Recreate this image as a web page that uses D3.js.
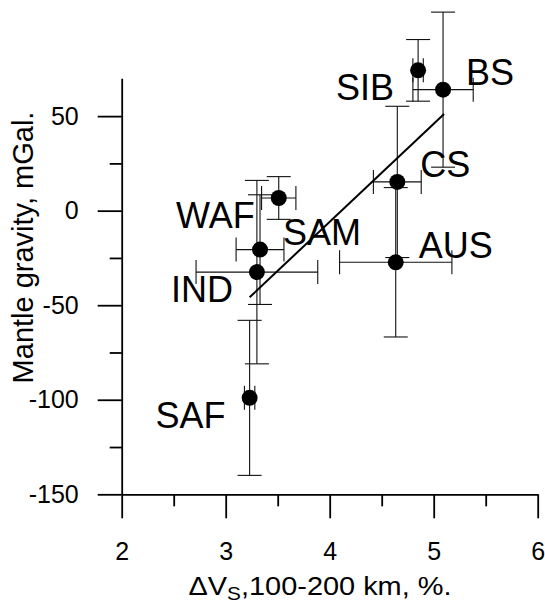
<!DOCTYPE html>
<html>
<head>
<meta charset="utf-8">
<script src="https://cdn.jsdelivr.net/npm/d3@7"></script>
<style>
  body { margin: 0; background: #fff; }
  text { font-family: "Liberation Sans", Arial, Helvetica, sans-serif; fill: #000; }
</style>
</head>
<body>
<div class="chart"></div>
<script>
// ========================= DATA =========================
const regions = ["SIB", "BS", "CS", "AUS", "WAF", "SAM", "IND", "SAF"]
const dVs = [4.85, 5.09, 4.65, 4.635, 3.51, 3.33, 3.30, 3.23]
const dVsErr = [0.05, 0.29, 0.23, 0.54, 0.165, 0.23, 0.585, 0.05]
const gravity = [74.2, 64, 15.2, -27.3, 6.7, -20.6, -32.5, -99]
const gravityErr = [16.3, 41, 40, 39.5, 11.3, 29, 48.5, 41]

// fitted line end points
const fitX = [3.23, 5.10]
const fitY = [-45.8, 51.1]

const xTicks = [2, 3, 4, 5, 6]
const xMinorTicks = [2.5, 3.5, 4.5, 5.5]
const yTicks = [-150, -100, -50, 0, 50]
const yMinorTicks = [-125, -75, -25, 25]

// which side of the dot each name sits on
const labelSide = { SIB: "left", BS: "right", CS: "right", AUS: "right", WAF: "left", SAM: "right", IND: "left", SAF: "left" }

// ========================= SETUP =========================
const svgWidth = 545
const svgHeight = 603

let svg = d3.select(".chart")
  .append("svg")
  .attr("width", svgWidth)
  .attr("height", svgHeight)

let xScale = d3.scaleLinear().domain([2, 6]).range([121.7, 537.7])
let yScale = d3.scaleLinear().domain([-150, 70]).range([494.3, 78.3])

let points = regions.map((name, i) => ({
  name: name,
  x: dVs[i],
  y: gravity[i],
  xe: dVsErr[i],
  ye: gravityErr[i]
}))

// ========================= AXES =========================
// plain hyphen for negatives, like the original
let plain = d => String(d)

let leftAxis = d3.axisLeft(yScale)
  .tickValues(yTicks)
  .tickSize(24)
  .tickSizeOuter(0)
  .tickPadding(19)
  .tickFormat(plain)

let leftMinor = d3.axisLeft(yScale)
  .tickValues(yMinorTicks)
  .tickSize(12)
  .tickFormat("")

let bottomAxis = d3.axisBottom(xScale)
  .tickValues(xTicks)
  .tickSize(24)
  .tickSizeOuter(0)
  .tickPadding(24)
  .tickFormat(plain)

let bottomMinor = d3.axisBottom(xScale)
  .tickValues(xMinorTicks)
  .tickSize(12)
  .tickFormat("")

svg.append("g")
  .attr("transform", `translate(${xScale(2)}, 0)`)
  .call(leftAxis)
svg.append("g")
  .attr("transform", `translate(${xScale(2)}, 0)`)
  .call(leftMinor)
  .select(".domain").remove()

svg.append("g")
  .attr("transform", `translate(0, ${yScale(-150)})`)
  .call(bottomAxis)
svg.append("g")
  .attr("transform", `translate(0, ${yScale(-150)})`)
  .call(bottomMinor)
  .select(".domain").remove()

svg.selectAll(".domain, .tick line")
  .attr("stroke", "#000")
  .attr("stroke-width", 1.8)

svg.selectAll(".tick text")
  .attr("font-size", 25)
  .attr("font-family", "Liberation Sans, Arial, sans-serif")
  .attr("fill", "#000")

// ========================= AXIS TITLES =========================
let xTitle = svg.append("text")
  .attr("x", 320)
  .attr("y", 595)
  .attr("text-anchor", "middle")
  .attr("font-size", 25)
  .attr("textLength", 263)
  .attr("lengthAdjust", "spacingAndGlyphs")
xTitle.append("tspan").text("\u0394V")
xTitle.append("tspan")
  .attr("font-size", 18)
  .attr("dy", 5)
  .text("S")
xTitle.append("tspan")
  .attr("dy", -5)
  .text(",100-200 km, %.")

svg.append("text")
  .attr("transform", "translate(33, 247.5) rotate(-90)")
  .attr("text-anchor", "middle")
  .attr("font-size", 29)
  .text("Mantle gravity, mGal.")

// ========================= ERROR BARS =========================
const cap = 12
let bars = svg.append("g")
  .attr("stroke", "#111")
  .attr("stroke-width", 1.1)
  .attr("fill", "none")

points.forEach(d => {
  let cx = xScale(d.x)
  let cy = yScale(d.y)
  let top = yScale(d.y + d.ye)
  let bot = yScale(d.y - d.ye)
  let lft = xScale(d.x - d.xe)
  let rgt = xScale(d.x + d.xe)
  // vertical
  bars.append("line").attr("x1", cx).attr("x2", cx).attr("y1", top).attr("y2", bot)
  bars.append("line").attr("x1", cx - cap).attr("x2", cx + cap).attr("y1", top).attr("y2", top)
  bars.append("line").attr("x1", cx - cap).attr("x2", cx + cap).attr("y1", bot).attr("y2", bot)
  // horizontal
  bars.append("line").attr("x1", lft).attr("x2", rgt).attr("y1", cy).attr("y2", cy)
  bars.append("line").attr("x1", lft).attr("x2", lft).attr("y1", cy - cap).attr("y2", cy + cap)
  bars.append("line").attr("x1", rgt).attr("x2", rgt).attr("y1", cy - cap).attr("y2", cy + cap)
})

// ========================= FIT LINE =========================
svg.append("line")
  .attr("x1", xScale(fitX[0]))
  .attr("y1", yScale(fitY[0]))
  .attr("x2", xScale(fitX[1]))
  .attr("y2", yScale(fitY[1]))
  .attr("stroke", "#000")
  .attr("stroke-width", 2)

// ========================= POINTS =========================
svg.selectAll("circle.pt")
  .data(points)
  .enter()
  .append("circle")
  .classed("pt", true)
  .attr("cx", d => xScale(d.x))
  .attr("cy", d => yScale(d.y))
  .attr("r", 8)
  .attr("fill", "#000")

svg.selectAll("text.name")
  .data(points)
  .enter()
  .append("text")
  .classed("name", true)
  .attr("x", d => xScale(d.x) + (labelSide[d.name] === "left" ? -24 : 23))
  .attr("y", d => yScale(d.y) + (labelSide[d.name] === "left" ? 30 : -4.5))
  .attr("text-anchor", d => labelSide[d.name] === "left" ? "end" : "start")
  .attr("font-size", 36)
  .text(d => d.name)
</script>
</body>
</html>
